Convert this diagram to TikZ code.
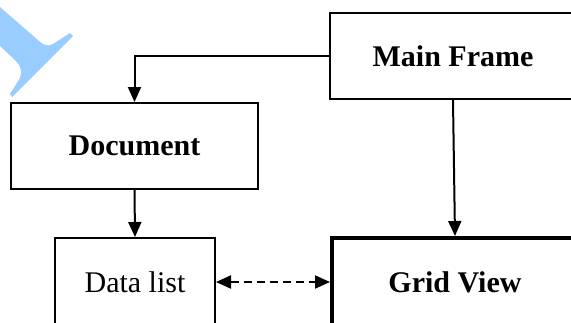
\documentclass[tikz,border=0pt]{standalone}
\usepackage{fontspec}
\setmainfont{Liberation Serif}
\usetikzlibrary{arrows.meta}
\definecolor{penblue}{HTML}{99CCFF}
\begin{document}
\begin{tikzpicture}[x=1pt,y=-1pt,
  box/.style={draw,line width=2pt,minimum width=#1,inner sep=0pt,font=\fontsize{30}{36}\selectfont},
  conn/.style={line width=2pt,-{Triangle[length=15pt,width=13pt]}},
  dconn/.style={line width=2pt,dash pattern=on 8pt off 5pt,{Triangle[length=15pt,width=13pt]}-{Triangle[length=15pt,width=13pt]}}]
\useasboundingbox (0,0) rectangle (571,322);
\clip (0,0) rectangle (571,322);
% blue watermark shape
\fill[penblue] (0,7) -- (39,41) .. controls (43,45) and (48,47) .. (53,44) -- (70,33) -- (73,36) -- (12,97) -- (10,94)
  -- (20,78) .. controls (23,72) and (20,64) .. (15,60) -- (0,46) -- cycle;
\node[box=246pt,minimum height=86pt,font=\fontsize{30}{36}\selectfont\bfseries] (main) at (453,56) {Main Frame};
\node[box=247pt,minimum height=86pt,font=\fontsize{30}{36}\selectfont\bfseries] (doc) at (134.5,146) {Document};
\node[box=160pt,minimum height=88pt] (data) at (135,282) {Data list};
\node[box=246pt,minimum height=88pt,line width=4pt,font=\fontsize{30}{36}\selectfont\bfseries] (grid) at (455,282) {Grid View};
\draw[conn] (main.west) -| (doc.north);
\draw[conn] (main.south) -- (grid.north);
\draw[conn] (doc.south) -- (data.north);
\draw[dconn] (data.east) -- (grid.west);
\end{tikzpicture}
\end{document}
